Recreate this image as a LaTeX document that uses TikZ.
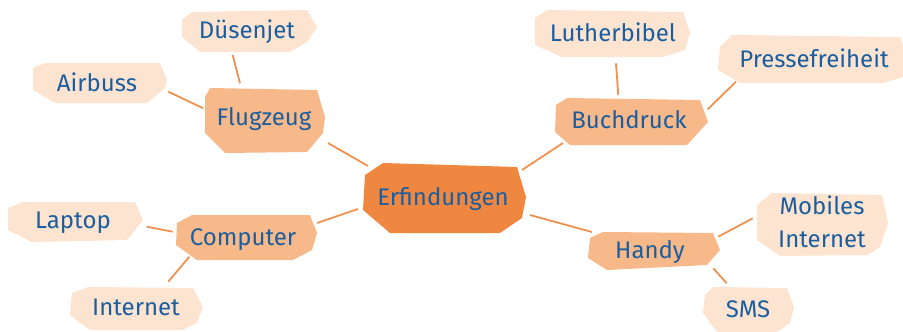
\documentclass[tikz,border=0pt]{standalone}
\usepackage{fontspec}
\setmainfont{Fira Sans}
\definecolor{hubfill}{RGB}{239,135,65}
\definecolor{midfill}{RGB}{247,185,137}
\definecolor{leaffill}{RGB}{253,228,208}
\definecolor{linkcol}{RGB}{240,145,80}
\definecolor{inkblue}{RGB}{27,94,159}
\tikzset{
  label/.style={text=inkblue, inner sep=0pt, anchor=base,
    font=\fontsize{24}{32}\selectfont},
  link/.style={draw=linkcol, line width=1.8pt},
  hubshape/.style={fill=hubfill},
  midshape/.style={fill=midfill},
  leafshape/.style={fill=leaffill},
}
\begin{document}
\begin{tikzpicture}[x=1pt, y=-1pt]
\useasboundingbox (0,0) rectangle (903,332);

% irregular octagonal patches
\fill[hubshape]  (383,163) -- (517,167) -- (526,197) -- (522,218) -- (500,233) -- (390,233) -- (363,210) -- (365,175) -- cycle;
\fill[midshape]  (210,88) -- (317,90) -- (325,117) -- (323,133) -- (307,152) -- (225,153) -- (205,133) -- (205,97) -- cycle;
\fill[leafshape] (192,12) -- (307,10) -- (317,27) -- (307,42) -- (290,52) -- (200,52) -- (182,37) -- (182,20) -- cycle;
\fill[leafshape] (45,63) -- (160,63) -- (167,80) -- (165,88) -- (147,103) -- (55,103) -- (33,90) -- (33,68) -- cycle;
\fill[leafshape] (547,10) -- (683,12) -- (690,33) -- (685,50) -- (663,57) -- (562,57) -- (535,45) -- (535,18) -- cycle;
\fill[leafshape] (732,35) -- (900,37) -- (903,45) -- (903,77) -- (883,83) -- (740,83) -- (718,70) -- (720,47) -- cycle;
\fill[midshape]  (567,98) -- (700,100) -- (708,122) -- (687,145) -- (570,145) -- (555,132) -- (556,105) -- cycle;
\fill[midshape]  (192,215) -- (310,215) -- (317,233) -- (312,250) -- (293,260) -- (197,260) -- (176,245) -- (177,223) -- cycle;
\fill[leafshape] (23,202) -- (135,202) -- (143,220) -- (127,240) -- (32,242) -- (8,230) -- (8,208) -- cycle;
\fill[leafshape] (88,287) -- (193,288) -- (203,307) -- (197,323) -- (182,330) -- (90,330) -- (70,315) -- (72,293) -- cycle;
\fill[midshape]  (603,232) -- (713,233) -- (720,250) -- (707,265) -- (607,270) -- (588,258) -- (590,238) -- cycle;
\fill[leafshape] (772,193) -- (882,195) -- (888,223) -- (880,247) -- (868,255) -- (780,256) -- (757,240) -- (757,205) -- cycle;
\fill[leafshape] (713,287) -- (787,288) -- (794,307) -- (790,323) -- (777,332) -- (717,332) -- (703,313) -- (705,295) -- cycle;

% labels
\node[label] (erf)   at (443,205) {Erfindungen};
\node[label] (flug)  at (264,125) {Flugzeug};
\node[label] (dues)  at (247,38)  {Düsenjet};
\node[label] (airb)  at (97,91)   {Airbuss};
\node[label] (luth)  at (613,41)  {Lutherbibel};
\node[label] (press) at (814,67)  {Pressefreiheit};
\node[label] (buch)  at (629,128) {Buchdruck};
\node[label] (comp)  at (243,245) {Computer};
\node[label] (lap)   at (73,228)  {Laptop};
\node[label] (inet)  at (136,315) {Internet};
\node[label] (handy) at (650,258) {Handy};
\node[label, anchor=center, align=center,
      font=\fontsize{24}{33}\selectfont] (mob) at (822,222) {Mobiles\\Internet};
\node[label] (sms)   at (748,317) {SMS};

% connectors
\draw[link] ([shift={(-14.3,17)}]dues.base)  -- ([shift={(-24,-41.7)}]flug.base);
\draw[link] ([shift={(71.3,0.7)}]airb.base)  -- ([shift={(-60.7,-16.7)}]flug.base);
\draw[link] ([shift={(64,18)}]flug.base)     -- ([shift={(-75,-39)}]erf.base);
\draw[link] ([shift={(3,22.3)}]luth.base)    -- ([shift={(-10.7,-33)}]buch.base);
\draw[link] ([shift={(-78,14.7)}]press.base) -- ([shift={(78.7,-18.7)}]buch.base);
\draw[link] ([shift={(-66,15)}]buch.base)    -- ([shift={(79,-35)}]erf.base);
\draw[link] ([shift={(74,-22)}]comp.base)    -- ([shift={(-85,4)}]erf.base);
\draw[link] ([shift={(-58,-26)}]handy.base)  -- ([shift={(87,10)}]erf.base);
\draw[link] ([shift={(73.7,-1.3)}]lap.base)  -- ([shift={(-70.3,-13.3)}]comp.base);
\draw[link] ([shift={(32.3,-33.3)}]inet.base) -- ([shift={(-53.7,11.7)}]comp.base);
\draw[link] ([shift={(-69.3,-3.7)}]mob.center) -- ([shift={(68.3,-21.3)}]handy.base);
\draw[link] ([shift={(-21.3,-33.7)}]sms.base) -- ([shift={(63.3,10.3)}]handy.base);
\end{tikzpicture}
\end{document}
